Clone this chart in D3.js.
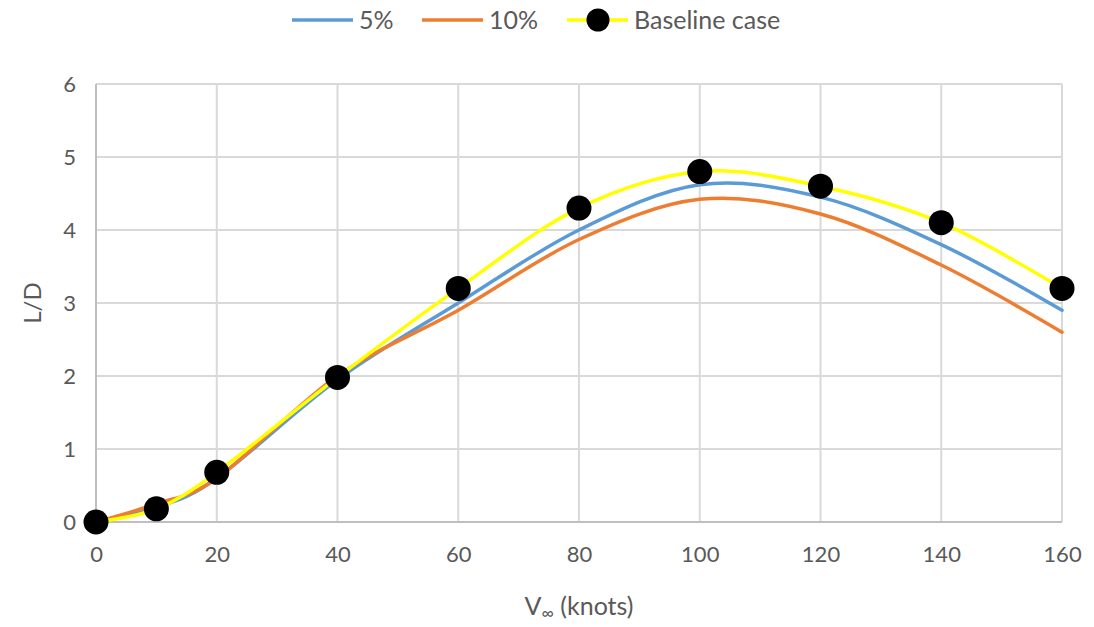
<!DOCTYPE html>
<html>
<head>
<meta charset="utf-8">
<script src="https://cdn.jsdelivr.net/npm/d3@7"></script>
<style>
  body { margin: 0; background: #fff; }
  text { font-family: Lato, "Open Sans", sans-serif; fill: #595959; }
</style>
</head>
<body>
<svg id="chart" width="1094" height="627"></svg>
<script>
// Speeds in knots and lift-to-drag ratios for each case
const speeds = [0, 10, 20, 40, 60, 80, 100, 120, 140, 160];
const ld5 = [0, 0.2, 0.6, 1.95, 3.0, 4.0, 4.62, 4.45, 3.8, 2.9];
const ld10 = [0, 0.25, 0.6, 2.0, 2.9, 3.87, 4.42, 4.22, 3.52, 2.6];
const ldBaseline = [0, 0.18, 0.68, 1.98, 3.2, 4.3, 4.8, 4.6, 4.1, 3.2];
const xTicks = [0, 20, 40, 60, 80, 100, 120, 140, 160];
const yTicks = [0, 1, 2, 3, 4, 5, 6];

const seriesNames = ["5%", "10%", "Baseline case"];
const seriesColors = ["#5b9bd5", "#ed7d31", "#ffff00"];

const svg = d3.select("#chart");
const margin = { left: 96, right: 32, top: 84, bottom: 105 };
const W = 1094, H = 627;

const x = d3.scaleLinear().domain([0, 160]).range([margin.left, W - margin.right]);
const y = d3.scaleLinear().domain([0, 6]).range([H - margin.bottom, margin.top]);

// Gridlines
svg.append("g")
  .selectAll("line")
  .data(yTicks.slice(1))
  .join("line")
  .attr("x1", x(0)).attr("x2", x(160))
  .attr("y1", d => y(d)).attr("y2", d => y(d))
  .attr("stroke", "#d9d9d9").attr("stroke-width", 2);

svg.append("g")
  .selectAll("line")
  .data(xTicks.slice(1))
  .join("line")
  .attr("x1", d => x(d)).attr("x2", d => x(d))
  .attr("y1", y(0)).attr("y2", y(6))
  .attr("stroke", "#d9d9d9").attr("stroke-width", 2);

// Axis lines
svg.append("line")
  .attr("x1", x(0)).attr("x2", x(0)).attr("y1", y(0)).attr("y2", y(6))
  .attr("stroke", "#bfbfbf").attr("stroke-width", 2);
svg.append("line")
  .attr("x1", x(0)).attr("x2", x(160)).attr("y1", y(0)).attr("y2", y(0))
  .attr("stroke", "#bfbfbf").attr("stroke-width", 2);

// Tick labels
const xAxis = d3.axisBottom(x).tickValues(xTicks).tickSize(0).tickPadding(24);
const gx = svg.append("g").attr("transform", `translate(0,${y(0)})`).call(xAxis);
gx.select(".domain").remove();
gx.selectAll("text").attr("font-size", 22).attr("font-family", "Lato, sans-serif").attr("fill", "#595959");

const yAxis = d3.axisLeft(y).tickValues(yTicks).tickFormat(d3.format("d")).tickSize(0).tickPadding(20);
const gy = svg.append("g").attr("transform", `translate(${x(0)},0)`).call(yAxis);
gy.select(".domain").remove();
gy.selectAll("text").attr("font-size", 22).attr("font-family", "Lato, sans-serif").attr("fill", "#595959");

// Smoothed series lines
const line = d3.line()
  .x((d, i) => x(speeds[i]))
  .y(d => y(d))
  .curve(d3.curveCardinal.tension(0));

const seriesData = [ld5, ld10, ldBaseline];
svg.append("g")
  .selectAll("path")
  .data(seriesData)
  .join("path")
  .attr("d", d => line(d))
  .attr("fill", "none")
  .attr("stroke", (d, i) => seriesColors[i])
  .attr("stroke-width", 3.5)
  .attr("stroke-linecap", "round");

// Baseline markers
svg.append("g")
  .selectAll("circle")
  .data(ldBaseline)
  .join("circle")
  .attr("cx", (d, i) => x(speeds[i]))
  .attr("cy", d => y(d))
  .attr("r", 12.5)
  .attr("fill", "#000");

// Axis titles
const xt = svg.append("text")
  .attr("x", (x(0) + x(160)) / 2).attr("y", 615)
  .attr("text-anchor", "middle").attr("font-size", 25);
xt.append("tspan").text("V");
xt.append("tspan").attr("font-size", 17).attr("dy", 4).text("\u221E");
xt.append("tspan").attr("dy", -4).text(" (knots)");

svg.append("text")
  .attr("transform", `translate(41,${(y(0) + y(6)) / 2}) rotate(-90)`)
  .attr("text-anchor", "middle").attr("font-size", 24)
  .text("L/D");

// Legend
const legendItems = [
  { name: seriesNames[0], color: seriesColors[0], x0: 292, marker: false },
  { name: seriesNames[1], color: seriesColors[1], x0: 422, marker: false },
  { name: seriesNames[2], color: seriesColors[2], x0: 567, marker: true }
];
const lg = svg.append("g");
legendItems.forEach(it => {
  lg.append("line")
    .attr("x1", it.x0).attr("x2", it.x0 + 61)
    .attr("y1", 20).attr("y2", 20)
    .attr("stroke", it.color).attr("stroke-width", 3.5);
  if (it.marker) {
    lg.append("circle").attr("cx", it.x0 + 31).attr("cy", 20).attr("r", 11.5).attr("fill", "#000");
  }
  lg.append("text")
    .attr("x", it.x0 + 67).attr("y", 29)
    .attr("font-size", 25)
    .text(it.name);
});
</script>
</body>
</html>
